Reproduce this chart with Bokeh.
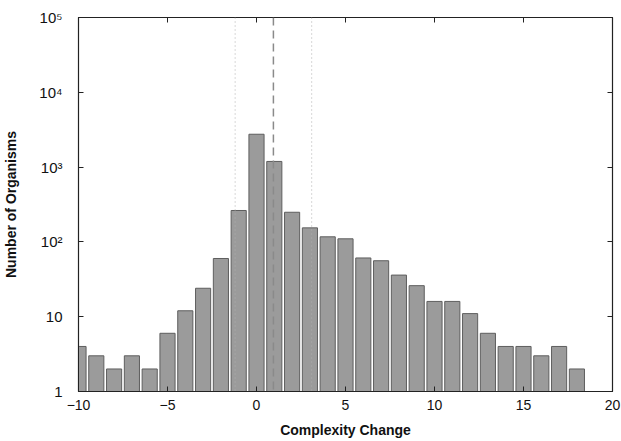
from bokeh.plotting import figure
from bokeh.models import Range1d, FixedTicker, LinearAxis, LogAxis, Span
from bokeh.embed import file_html
from bokeh.resources import INLINE

# Data
complexity_change = list(range(-10, 19))
organisms = [4, 3, 2, 3, 2, 6, 12, 24, 60, 263, 2750, 1190, 249, 154, 117, 110,
             61, 56, 36, 26, 16, 16, 11, 6, 4, 4, 3, 4, 2]
dotted_lines = [-1.2, 3.1]
dashed_lines = [0.95]
x_ticks = [-10, -5, 0, 5, 10, 15, 20]
y_ticks = [1, 10, 100, 1000, 10000, 100000]
y_tick_labels = ["1", "10", "10²", "10³", "10⁴", "10⁵"]

FONT = "Liberation Sans"

p = figure(width=621, height=441, y_axis_type="log",
           x_range=Range1d(-10, 20), y_range=Range1d(1, 1e5),
           output_backend="svg", toolbar_location=None,
           min_border_left=77, min_border_right=9, min_border_top=17,
           min_border_bottom=50)
p.grid.visible = False
p.outline_line_color = "#222222"
p.outline_line_width = 1.2
p.background_fill_color = "white"
p.border_fill_color = "white"

p.vbar(x=complexity_change, top=organisms, bottom=1, width=0.85,
       fill_color="#9b9b9b", line_color="#5e5e5e", line_width=1)

for loc in dotted_lines:
    p.add_layout(Span(location=loc, dimension="height", line_color="#b0b0b0",
                      line_dash="1 3", line_width=1))
for loc in dashed_lines:
    p.add_layout(Span(location=loc, dimension="height", line_color="#8a8a8a",
                      line_dash="8 5", line_width=1.5))

def style(ax):
    ax.major_tick_in = 5
    ax.major_tick_out = 0
    ax.minor_tick_line_color = None
    ax.axis_line_color = "#222222"
    ax.major_tick_line_color = "#222222"
    ax.major_label_text_font = FONT
    ax.major_label_text_font_size = "14px"
    ax.major_label_text_color = "#111111"
    ax.axis_label_text_font = FONT
    ax.axis_label_text_font_style = "bold"
    ax.axis_label_text_font_size = "14px"
    ax.axis_label_text_color = "#111111"

xa = p.xaxis[0]
xa.ticker = FixedTicker(ticks=x_ticks)
xa.major_label_overrides = {t: ("\u2212" + str(-t) if t < 0 else str(t)) for t in x_ticks}
xa.axis_label = "Complexity Change"
xa.major_label_standoff = 8
xa.axis_label_standoff = 9
style(xa)

ya = p.yaxis[0]
ya.ticker = FixedTicker(ticks=y_ticks)
ya.major_label_overrides = dict(zip(y_ticks, y_tick_labels))
ya.axis_label = "Number of Organisms"
ya.major_label_standoff = 16
ya.axis_label_standoff = 17
style(ya)
ya.major_label_text_font_size = "15px"

top = LinearAxis(ticker=FixedTicker(ticks=x_ticks))
style(top)
top.major_label_text_font_size = "1px"
top.major_label_text_color = None
top.major_label_standoff = 0
p.add_layout(top, "above")
right = LogAxis(ticker=FixedTicker(ticks=y_ticks))
style(right)
right.major_label_text_font_size = "1px"
right.major_label_text_color = None
right.major_label_standoff = 0
p.add_layout(right, "right")

open("out.html", "w").write(file_html(p, INLINE))
